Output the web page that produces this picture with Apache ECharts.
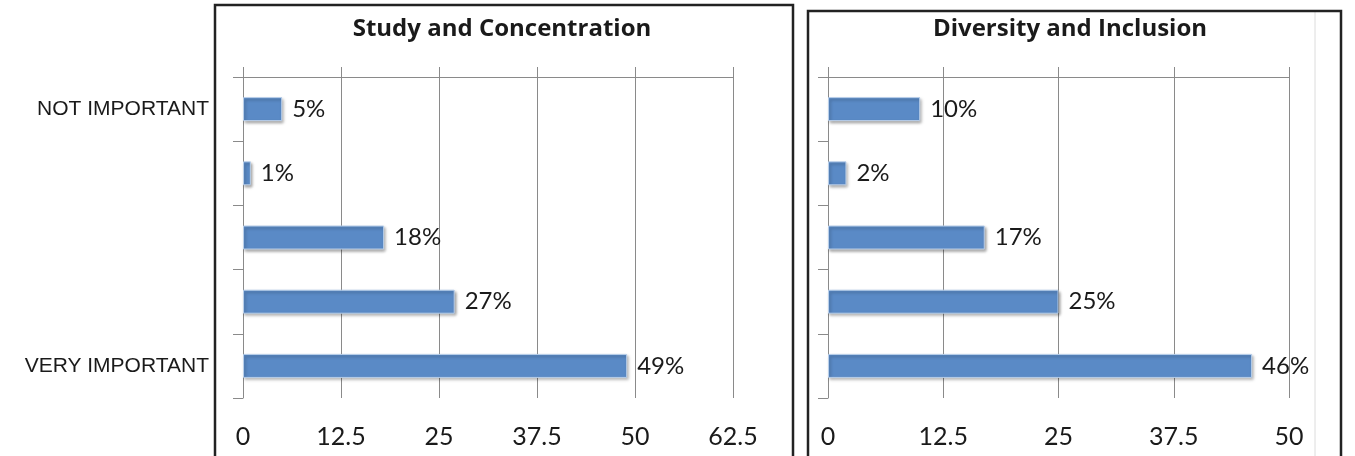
<!DOCTYPE html>
<html>
<head>
<meta charset="utf-8">
<script src="https://cdn.jsdelivr.net/npm/echarts@6/dist/echarts.min.js"></script>
<style>
html,body{margin:0;padding:0;background:#fff;}
#c{width:1355px;height:456px;}
</style>
</head>
<body>
<div id="c"></div>
<script>
var levels = ['NOT IMPORTANT', 'LEVEL 2', 'LEVEL 3', 'LEVEL 4', 'VERY IMPORTANT'];
var shownLevelLabels = ['NOT IMPORTANT', '', '', '', 'VERY IMPORTANT'];
var studyValues = [5, 1, 18, 27, 49];
var diversityValues = [10, 2, 17, 25, 46];
var titles = ['Study and Concentration', 'Diversity and Inclusion'];
var studyMax = 62.5, diversityMax = 50, tickStep = 12.5;

var chart = echarts.init(document.getElementById('c'), null, {renderer: 'canvas'});
var gridColor = '#8a8a8a';
var txt = '#1a1a1a';
var font = 'Lato, "Open Sans", sans-serif';

function bottomAxis(gi, max) {
  return {
    type: 'value', gridIndex: gi, position: 'bottom', min: 0, max: max, interval: tickStep,
    axisLine: {show: false}, axisTick: {show: false},
    splitLine: {show: true, lineStyle: {color: gridColor, width: 1}},
    axisLabel: {margin: 26, fontSize: 25, color: txt, fontFamily: font}
  };
}
function topAxis(gi, max) {
  return {
    type: 'value', gridIndex: gi, position: 'top', min: 0, max: max, interval: tickStep,
    axisLine: {show: true, lineStyle: {color: gridColor, width: 1}},
    axisTick: {show: true, length: 10, lineStyle: {color: gridColor}},
    splitLine: {show: false}, axisLabel: {show: false}
  };
}
function catAxis(gi, showLabels) {
  return {
    type: 'category', gridIndex: gi, data: levels, inverse: true,
    axisLine: {show: true, lineStyle: {color: gridColor, width: 1}},
    axisTick: {show: true, length: 10, lineStyle: {color: gridColor}},
    axisLabel: {
      show: showLabels, margin: 34, fontSize: 21, color: txt,
      fontFamily: '"Liberation Sans", Arial, sans-serif',
      formatter: function (v, i) { return shownLevelLabels[i]; }
    }
  };
}
function barSeries(xi, yi, values) {
  return {
    type: 'bar', xAxisIndex: xi, yAxisIndex: yi, data: values, barWidth: 24,
    itemStyle: {
      color: '#5a8ac6', borderColor: '#b9cfea', borderWidth: 1,
      shadowColor: 'rgba(0,0,0,0.35)', shadowBlur: 3, shadowOffsetX: 1.5, shadowOffsetY: 2
    },
    label: {
      show: true, position: 'right', distance: 10, formatter: '{c}%',
      fontSize: 24, color: txt, fontFamily: font
    },
    animation: false
  };
}

chart.setOption({
  animation: false,
  title: [
    {text: titles[0], left: 497, top: 12, textAlign: 'center',
     textStyle: {fontSize: 24, fontWeight: 'bold', color: txt, fontFamily: '"Open Sans", sans-serif'}},
    {text: titles[1], left: 1065, top: 12, textAlign: 'center',
     textStyle: {fontSize: 24, fontWeight: 'bold', color: txt, fontFamily: '"Open Sans", sans-serif'}}
  ],
  grid: [
    {left: 243, top: 77, width: 490, height: 321},
    {left: 828, top: 77, width: 461, height: 321}
  ],
  xAxis: [bottomAxis(0, studyMax), topAxis(0, studyMax), bottomAxis(1, diversityMax), topAxis(1, diversityMax)],
  yAxis: [catAxis(0, true), catAxis(1, false)],
  series: [barSeries(0, 0, studyValues), barSeries(2, 1, diversityValues)],
  graphic: [
    {type: 'rect', shape: {x: 215, y: 5, width: 578, height: 470}, style: {fill: 'none', stroke: '#222', lineWidth: 2.5}, z: 100},
    {type: 'rect', shape: {x: 808, y: 11, width: 533, height: 470}, style: {fill: 'none', stroke: '#222', lineWidth: 2.5}, z: 100},
    {type: 'line', shape: {x1: 1315, y1: 12, x2: 1315, y2: 456}, style: {stroke: '#dcdcdc', lineWidth: 1}, z: 99}
  ]
});
</script>
</body>
</html>
